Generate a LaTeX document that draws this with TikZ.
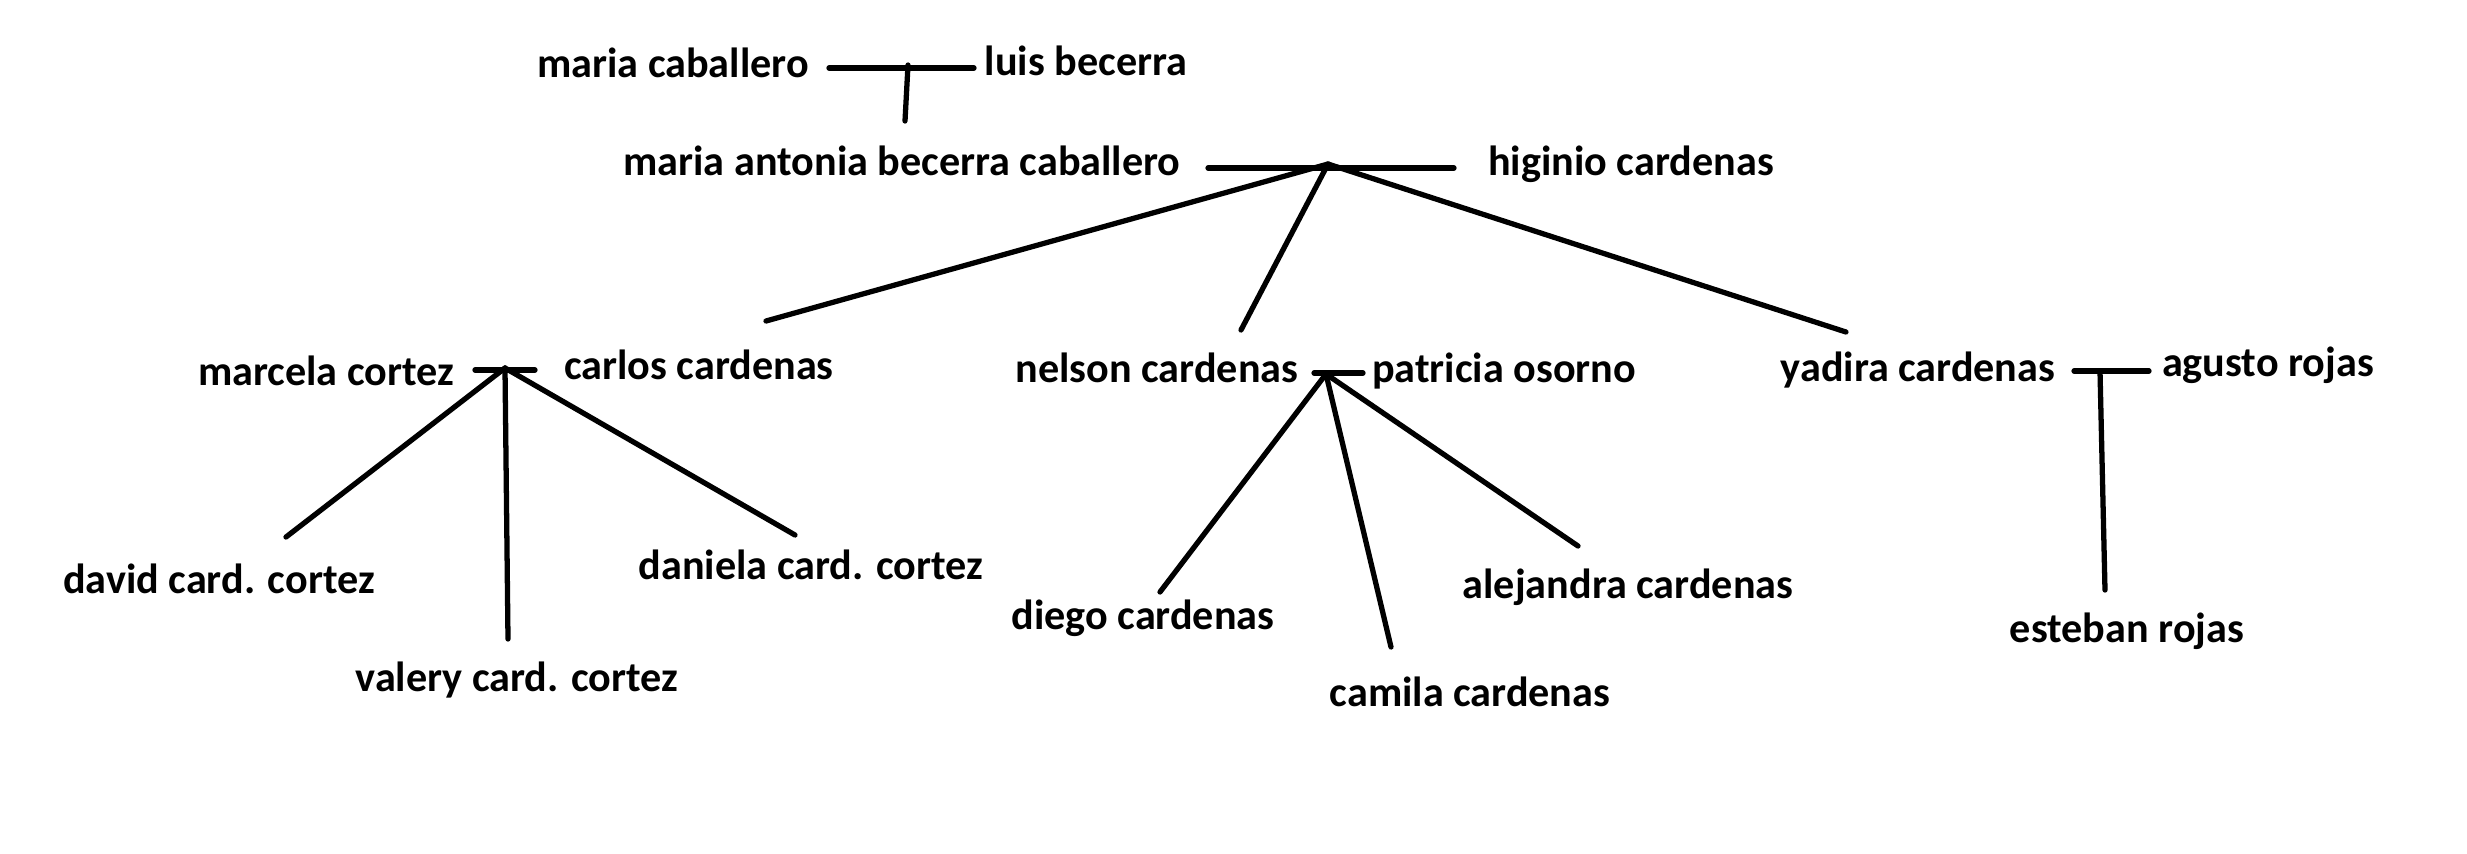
\documentclass[tikz,border=0pt]{standalone}
\usepackage{fontspec}
\setmainfont{Carlito}
\usepackage{tikz}
\usetikzlibrary{positioning}

\begin{document}
\begin{tikzpicture}
                [person/.style = {font=\fontsize{12}{14}\selectfont\bfseries, inner sep=0pt},
                 link/.style = {line width=1.5pt, line cap=round}]

                \useasboundingbox (0,0) rectangle (24.67,-8.53);

                % grandparents
                \node[person] (mc) at (6.73, -0.63) {maria caballero};
                \node[person] (lb) at (10.86, -0.61) {luis becerra};
                \node[person] (mab) at (9.02, -1.61) {maria antonia becerra caballero};
                \node[person] (hc) at (16.31, -1.64) {higinio cardenas};

                % children
                \node[person] (mco) at (3.26, -3.71) {marcela cortez};
                \node[person] (cc) at (6.99, -3.65) {carlos cardenas};
                \node[person] (nc) at (11.57, -3.68) {nelson cardenas};
                \node[person] (po) at (15.04, -3.71) {patricia osorno};
                \node[person] (yc) at (19.18, -3.70) {yadira cardenas};
                \node[person] (ar) at (22.68, -3.65) {agusto rojas};

                % grandchildren
                \node[person] (dcc) at (2.19, -5.79) {david card. cortez};
                \node[person] (vcc) at (5.17, -6.80) {valery card. cortez};
                \node[person] (dacc) at (8.11, -5.65) {daniela card. cortez};
                \node[person] (dic) at (11.43, -6.18) {diego cardenas};
                \node[person] (cac) at (14.70, -6.92) {camila cardenas};
                \node[person] (alc) at (16.28, -5.87) {alejandra cardenas};
                \node[person] (er) at (21.27, -6.31) {esteban rojas};

                % couple bars and line ends
                \coordinate (m1a) at (8.29, -0.68);
                \coordinate (m1b) at (9.74, -0.68);
                \coordinate (j1) at (9.08, -0.65);
                \coordinate (k1) at (9.05, -1.21);

                \coordinate (m2a) at (12.08, -1.68);
                \coordinate (m2b) at (14.54, -1.68);
                \coordinate (j2) at (13.28, -1.64);
                \coordinate (k2a) at (7.66, -3.21);
                \coordinate (k2b) at (12.41, -3.30);
                \coordinate (k2c) at (18.46, -3.32);

                \coordinate (m3a) at (4.75, -3.70);
                \coordinate (m3b) at (5.35, -3.70);
                \coordinate (j3) at (5.05, -3.68);
                \coordinate (k3a) at (2.86, -5.37);
                \coordinate (k3b) at (5.08, -6.39);
                \coordinate (k3c) at (7.95, -5.35);

                \coordinate (m4a) at (13.14, -3.73);
                \coordinate (m4b) at (13.63, -3.73);
                \coordinate (j4) at (13.26, -3.74);
                \coordinate (k4a) at (11.60, -5.92);
                \coordinate (k4b) at (13.91, -6.47);
                \coordinate (k4c) at (15.78, -5.46);

                \coordinate (m5a) at (20.74, -3.71);
                \coordinate (m5b) at (21.49, -3.71);
                \coordinate (j5) at (21.00, -3.71);
                \coordinate (k5) at (21.05, -5.90);

                \path[link] (m1a) edge (m1b);
                \path[link] (j1) edge (k1);

                \path[link] (m2a) edge (m2b);
                \path[link] (j2) edge (k2a);
                \path[link] (j2) edge (k2b);
                \path[link] (j2) edge (k2c);

                \path[link] (m3a) edge (m3b);
                \path[link] (j3) edge (k3a);
                \path[link] (j3) edge (k3b);
                \path[link] (j3) edge (k3c);

                \path[link] (m4a) edge (m4b);
                \path[link] (j4) edge (k4a);
                \path[link] (j4) edge (k4b);
                \path[link] (j4) edge (k4c);

                \path[link] (m5a) edge (m5b);
                \path[link] (j5) edge (k5);

            \end{tikzpicture}
\end{document}
